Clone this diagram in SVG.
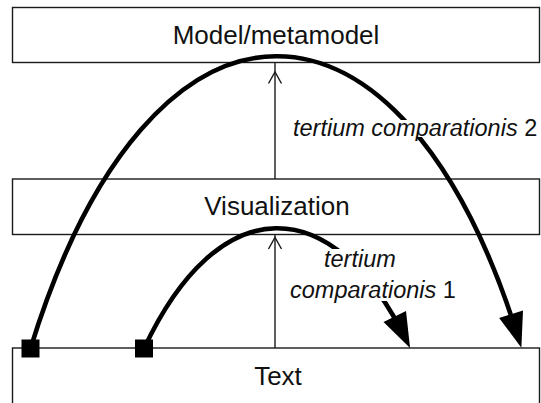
<svg xmlns="http://www.w3.org/2000/svg" xmlns:xlink="http://www.w3.org/1999/xlink" width="541" height="403" viewBox="0 0 541 403">
<style>
.box{fill:#fff;stroke:#1a1a1a;stroke-width:1.4}
.title{font-family:"Liberation Sans",Arial,sans-serif;font-size:26px;fill:#111;text-anchor:middle}
.lbl{font-family:"Liberation Sans",Arial,sans-serif;font-size:23.5px;fill:#111}
.it{font-style:italic}
.thin{fill:none;stroke:#1a1a1a;stroke-width:1.4}
.arc{fill:none;stroke:#000;stroke-width:4.6}
.bg{fill:#fff}
</style>
<defs>
<marker id="sq" markerUnits="userSpaceOnUse" markerWidth="20" markerHeight="20" refX="10" refY="10" orient="0" overflow="visible">
<rect x="1" y="1" width="18" height="18" fill="#000"/>
</marker>
<marker id="head" markerUnits="userSpaceOnUse" markerWidth="40" markerHeight="30" refX="28" refY="13" orient="auto" overflow="visible">
<path d="M0,0.5 L35,13 L0,25.5 z" fill="#000"/>
</marker>
<path id="chev" d="M-6.5,11.5 L0,0 L6.5,11.5" fill="none" stroke="#1a1a1a" stroke-width="1.4"/>
</defs>
<g id="node-model">
<rect class="box" x="12.5" y="7.5" width="527" height="55"/>
<text class="title" x="276" y="44">Model/metamodel</text>
</g>
<g id="node-visualization">
<rect class="box" x="12.5" y="179" width="527" height="55.5"/>
<text class="title" x="277" y="215">Visualization</text>
</g>
<g id="node-text">
<rect class="box" x="12.5" y="348" width="527" height="70"/>
<text class="title" x="278" y="385">Text</text>
</g>
<g id="connectors">
<line class="thin" x1="275" y1="179" x2="275" y2="62.5"/>
<use xlink:href="#chev" x="275" y="72"/>
<line class="thin" x1="275" y1="348" x2="275" y2="234.5"/>
<use xlink:href="#chev" x="275" y="237.5"/>
<path class="arc" d="M30.5,348.5 C150,-40 402,-40 519.3,341" marker-start="url(#sq)" marker-end="url(#head)"/>
<path class="arc" d="M144,348.5 C218.6,189.3 333,189.3 407,341.6" marker-start="url(#sq)" marker-end="url(#head)"/>
</g>
<g id="label-tc2">
<rect class="bg" x="291" y="120" width="247" height="17"/>
<text class="lbl" x="293" y="136"><tspan class="it">tertium comparationis</tspan> 2</text>
</g>
<g id="label-tc1">
<rect class="bg" x="289" y="249" width="168" height="52"/>
<text class="lbl" x="324" y="267"><tspan class="it">tertium</tspan></text>
<text class="lbl" x="290" y="298"><tspan class="it">comparationis</tspan> 1</text>
</g>
</svg>
